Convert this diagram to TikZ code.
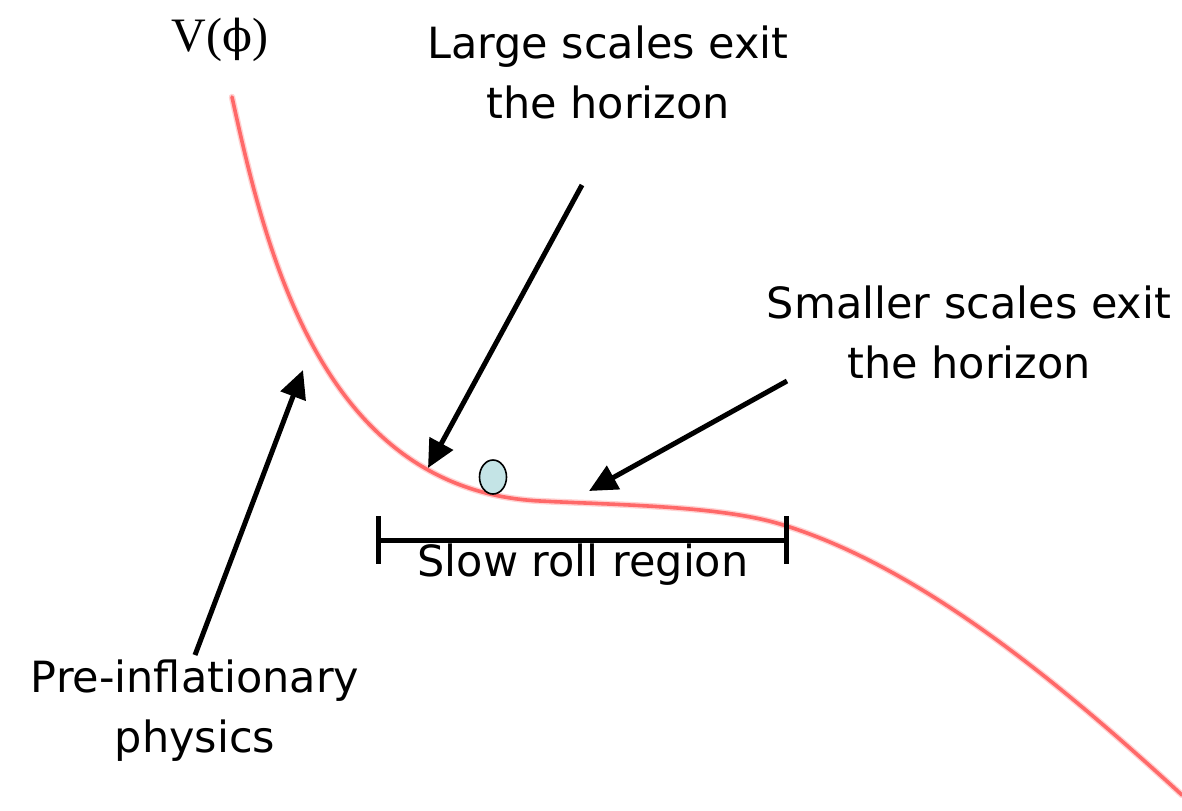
\documentclass[tikz,border=0pt]{standalone}
\usepackage{fontspec}
\setmainfont{DejaVu Sans}
\newfontfamily\serifV{Liberation Serif}
\newfontfamily\phifont{DejaVu Serif}
\usetikzlibrary{arrows.meta,shapes.geometric}
\definecolor{curvered}{RGB}{255,105,105}
\definecolor{ballfill}{RGB}{196,228,230}
\tikzset{
  lbl/.style={font=\fontsize{21.5}{30}\selectfont, align=center, inner sep=0pt},
  pointer/.style={line width=2.5pt, -{Triangle[length=14pt,width=13pt]}},
  potential/.style={curvered, line width=1.8pt, line cap=round, line join=round},
  glow/.style={curvered, line width=3.2pt, opacity=0.3, line cap=round, line join=round},
}
\begin{document}
\begin{tikzpicture}[x=0.5pt,y=-0.5pt]
\useasboundingbox (0,0) rectangle (1182,810);
% potential curve
\coordinate (p0) at (232,97);
\coordinate (p1) at (540,501);
\coordinate (p2) at (780,524);
\coordinate (p3) at (1182,795);
\def\pot{(p0) .. controls (265,247) and (320,490) .. (p1) .. controls (620,505) and (720,506) .. (p2) .. controls (920,566) and (1062,685) .. (p3)}
\draw[glow] \pot;
\draw[potential] \pot;
% labels
\node[font=\serifV\fontsize{24}{28}\selectfont, inner sep=0pt] (V) at (220,40) {V({\phifont\fontsize{22}{28}\selectfont ϕ})};
\node[lbl] (large) at (608,72) {Large scales exit\\the horizon};
\node[lbl] (small) at (969,332) {Smaller scales exit\\the horizon};
\node[lbl] (slow) at (583,565) {Slow roll region};
\node[lbl] (pre) at (195,711) {Pre-inflationary\\physics};
% ball
\node[draw=black, line width=0.8pt, fill=ballfill, ellipse, minimum width=13.5pt, minimum height=17pt, inner sep=0pt] (ball) at (493,477) {};
% arrow end points
\coordinate (largeTail) at (582,185);
\coordinate (largeTip) at (428,468);
\coordinate (smallTail) at (787,381);
\coordinate (smallTip) at (589,491);
\coordinate (preTail) at (195,655);
\coordinate (preTip) at (303,370);
\draw[pointer] (largeTail) -- (largeTip);
\draw[pointer] (smallTail) -- (smallTip);
\draw[pointer] (preTail) -- (preTip);
% slow roll bar
\coordinate (barL) at (378,540);
\coordinate (barR) at (786,540);
\draw[line width=2.5pt] (barL) -- (barR);
\draw[line width=2.5pt] ([yshift=12]barL) -- ([yshift=-12]barL);
\draw[line width=2.5pt] ([yshift=12]barR) -- ([yshift=-12]barR);
\end{tikzpicture}
\end{document}
